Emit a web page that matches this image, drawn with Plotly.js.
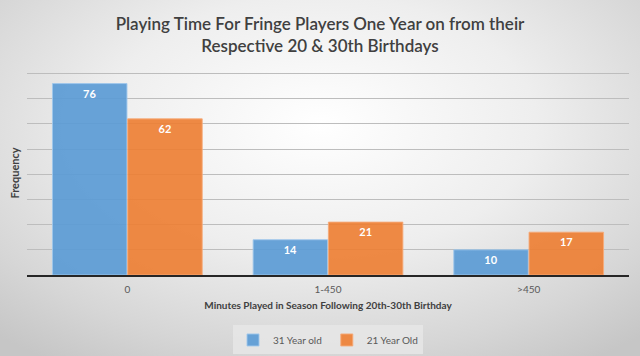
<!DOCTYPE html>
<html><head><meta charset="utf-8">
<script src="https://cdn.plot.ly/plotly-3.0.1.min.js"></script>
<style>
html,body{margin:0;padding:0;}
body{width:640px;height:356px;overflow:hidden;
background: radial-gradient(ellipse 75% 80% at 50% 35%, #ffffff 0%, #eeeeee 45%, #d6d6d6 80%, #c6c6c6 100%);}
#chart{width:640px;height:356px;}
</style></head><body>
<div id="chart"></div>
<script>
const categories = ["0", "1-450", ">450"];
const series31 = [76, 14, 10];
const series21 = [62, 21, 17];
const seriesNames = ["31 Year old", "21 Year Old"];

const FONT = 'Lato, "Open Sans", sans-serif';
const common = {
  type: 'bar',
  textposition: 'inside',
  insidetextanchor: 'end',
  texttemplate: '%{y}',
  textfont: {family: FONT, size: 11, color: '#ffffff', weight: 'bold'},
  hoverinfo: 'none'
};
const data = [
  Object.assign({}, common, {x: categories, y: series31, name: seriesNames[0],
    marker: {color: 'rgba(91,155,213,0.92)', line: {color: 'rgba(160,200,236,0.9)', width: 1}}}),
  Object.assign({}, common, {x: categories, y: series21, name: seriesNames[1],
    marker: {color: 'rgba(237,125,49,0.9)', line: {color: 'rgba(246,170,120,0.9)', width: 1}}})
];
const layout = {
  width: 640, height: 356,
  paper_bgcolor: 'rgba(0,0,0,0)', plot_bgcolor: 'rgba(0,0,0,0)',
  margin: {l: 27, r: 11, t: 71, b: 81, autoexpand: false},
  barmode: 'group', bargap: 0.25, bargroupgap: 0.01,
  title: {text: 'Playing Time For Fringe Players One Year on from their<br>Respective 20 & 30th Birthdays',
    font: {family: FONT, size: 17, color: '#404040', weight: 600},
    x: 0.5, xanchor: 'center', yref: 'container', y: 0.917, yanchor: 'middle'},
  xaxis: {
    type: 'category', automargin: false,
    showline: true, linecolor: '#262626', linewidth: 1.5,
    ticks: 'outside', ticklen: 4, tickcolor: 'rgba(0,0,0,0)',
    tickfont: {family: FONT, size: 10, color: '#595959'},
    title: {text: 'Minutes Played in Season Following 20th-30th Birthday', standoff: 8,
      font: {family: FONT, size: 10, color: '#404040', weight: 'bold'}}
  },
  yaxis: {
    range: [0, 81], tickvals: [10, 20, 30, 40, 50, 60, 70, 80], showticklabels: false, zeroline: false,
    automargin: false,
    showgrid: true, gridcolor: '#bdbdbd', gridwidth: 1,
    title: {text: 'Frequency', standoff: 4,
      font: {family: FONT, size: 11, color: '#404040', weight: 'bold'}}
  },
  showlegend: true,
  legend: {orientation: 'h', x: 0.5, xanchor: 'center', yref: 'container', y: 0.045, yanchor: 'middle',
    bgcolor: 'rgba(230,230,230,0.9)', itemwidth: 30,
    font: {family: FONT, size: 10, color: '#595959'}}
};
Plotly.newPlot('chart', data, layout, {displayModeBar: false, staticPlot: true});
</script>
</body></html>
